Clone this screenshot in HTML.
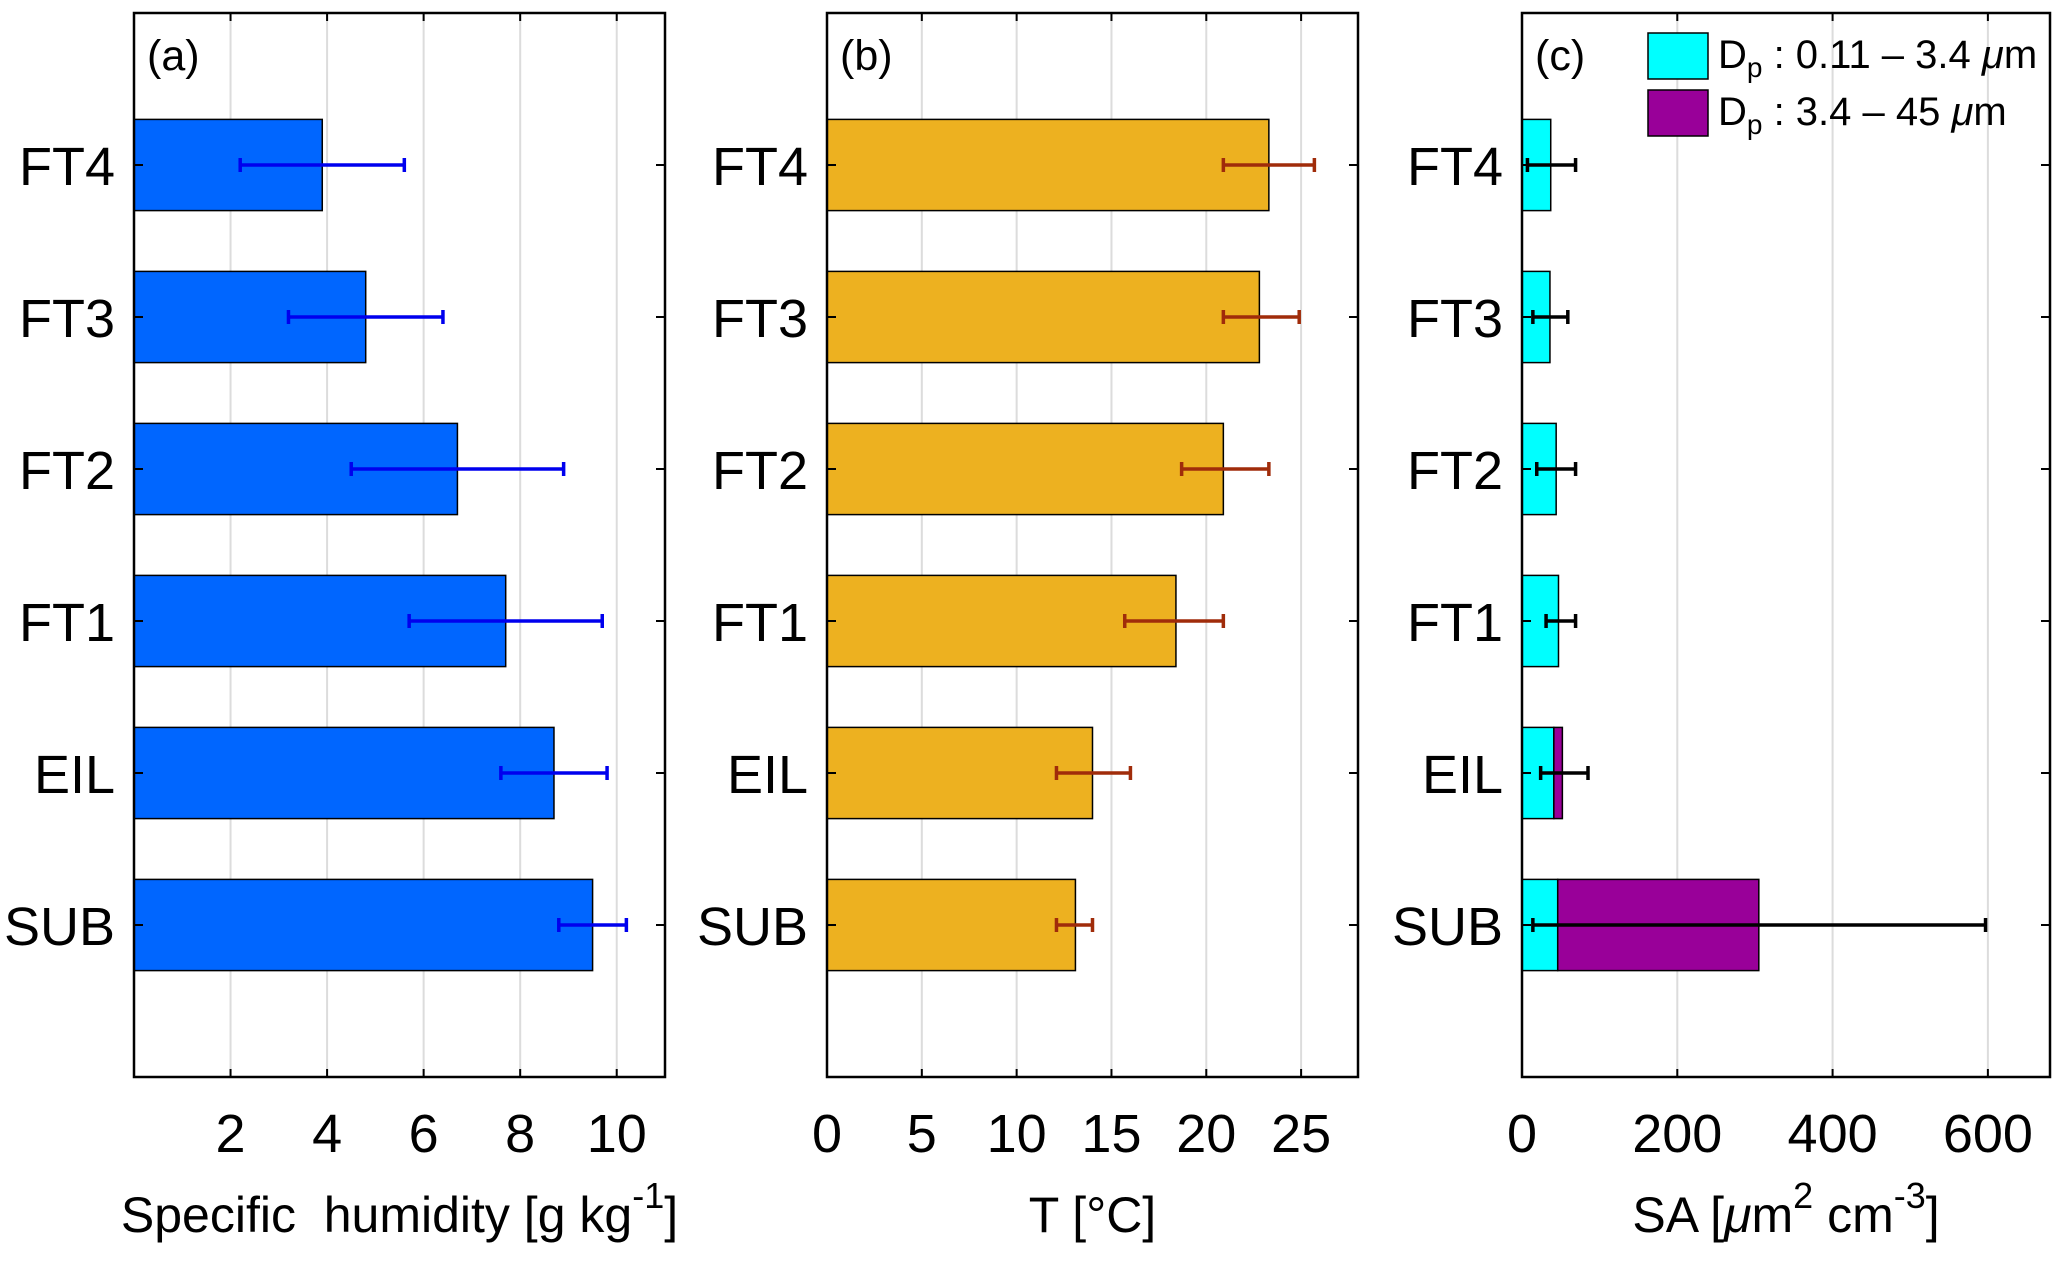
<!DOCTYPE html>
<html><head><meta charset="utf-8"><style>
html,body{margin:0;padding:0;background:#fff}
svg{display:block;font-family:"Liberation Sans",Arial,sans-serif}
</style></head><body>
<svg id="chart" width="2067" height="1267" viewBox="0 0 2067 1267"></svg>
<script>
const categories = ["FT4","FT3","FT2","FT1","EIL","SUB"];
const humidity = [3.9,4.8,6.7,7.7,8.7,9.5];
const humidityLo = [2.2,3.2,4.5,5.7,7.6,8.8];
const humidityHi = [5.6,6.4,8.9,9.7,9.8,10.2];
const temp = [23.3,22.8,20.9,18.4,14.0,13.1];
const tempLo = [20.9,20.9,18.7,15.7,12.1,12.1];
const tempHi = [25.7,24.9,23.3,20.9,16.0,14.0];
const saFine = [37,36,44,47,41,46];
const saCoarse = [0,0,0,0,11,259];
const saLo = [7,14,19,31,24,14];
const saHi = [69,59,69,69,85,597];
const ticksA = [2,4,6,8,10];
const ticksB = [0,5,10,15,20,25];
const ticksC = [0,200,400,600];

const NS="http://www.w3.org/2000/svg";
const svg=document.getElementById('chart');
function mk(tag,attrs,parent){const e=document.createElementNS(NS,tag);for(const k in attrs)e.setAttribute(k,attrs[k]);(parent||svg).appendChild(e);return e;}
const TOP=13,BOT=1077;
const yS=i=>TOP+(i+1)*(BOT-TOP)/7;
const BH=0.6*(BOT-TOP)/7;

function panel(L,R,xmax,ticks,label,title,sup,bars,errLo,errHi,errColor){
  const g=mk('g',{});
  
  
  const xS=v=>L+v/xmax*(R-L);
  ticks.forEach(t=>{
    const gl=mk('line',{x1:xS(t),x2:xS(t),y1:TOP,y2:BOT,stroke:'#dcdcdc','stroke-width':2},g);
    
    
    mk('line',{x1:xS(t),x2:xS(t),y1:BOT,y2:BOT-8,stroke:'#000','stroke-width':2},g);
    mk('line',{x1:xS(t),x2:xS(t),y1:TOP,y2:TOP+8,stroke:'#000','stroke-width':2},g);
    const tl=mk('text',{x:xS(t),y:1152,'font-size':54,'text-anchor':'middle'},g);
    tl.textContent=t;
    
    
  });
  categories.forEach((c,i)=>{
    const y=yS(i);
    let x0=0;
    bars.forEach(b=>{
      const v=b.vals[i];
      if(v>0){
        const r=mk('rect',{x:xS(x0),y:y-BH/2,width:xS(x0+v)-xS(x0),height:BH,fill:b.color,stroke:'#000','stroke-width':1.5},g);
        
        
      }
      x0+=v;
    });
    const a=xS(errLo[i]),b=xS(errHi[i]);
    const eb=mk('path',{d:`M${a},${y}H${b}M${a},${y-7}V${y+7}M${b},${y-7}V${y+7}`,stroke:errColor,'stroke-width':3.5,fill:'none'},g);
    
    
    mk('line',{x1:L,x2:L+9,y1:y,y2:y,stroke:'#000','stroke-width':2},g);
    mk('line',{x1:R,x2:R-9,y1:y,y2:y,stroke:'#000','stroke-width':2},g);
    const cl=mk('text',{x:L-19,y:y+20,'font-size':54,'text-anchor':'end'},g);
    cl.textContent=c;
    
    
  });
  const fr=mk('rect',{x:L,y:TOP,width:R-L,height:BOT-TOP,fill:'none',stroke:'#000','stroke-width':2.5},g);
  
  
  const pl=mk('text',{x:L+13,y:70,'font-size':43},g);
  pl.textContent=label;
  
  
  const tt=mk('text',{x:(L+R)/2,y:1232,'font-size':50,'text-anchor':'middle'},g);
  tt.innerHTML=title;
  
  
  return xS;
}
panel(134,665,11,ticksA,'(a)','Specific&#160;&#160;humidity [g kg<tspan dy="-24" font-size="36">-1</tspan><tspan dy="24">]</tspan>',null,[{vals:humidity,color:'#0066ff'}],humidityLo,humidityHi,'#0000ee');
panel(827,1358,28,ticksB,'(b)','T [°C]',null,[{vals:temp,color:'#edb120'}],tempLo,tempHi,'#a02c0a');
panel(1522,2050,680,ticksC,'(c)','SA [<tspan font-style="italic">μ</tspan>m<tspan dy="-24" font-size="36">2</tspan><tspan dy="24"> cm</tspan><tspan dy="-24" font-size="36">-3</tspan><tspan dy="24">]</tspan>',null,[{vals:saFine,color:'#00ffff'},{vals:saCoarse,color:'#990099'}],saLo,saHi,'#000');

const lg=mk('g',{});


[['#00ffff','0.11 – 3.4',33],['#990099','3.4 – 45',90]].forEach(([col,txt,y])=>{
  const s=mk('rect',{x:1648,y:y,width:60,height:46,fill:col,stroke:'#000','stroke-width':1.5},lg);
  
  
  const t=mk('text',{x:1718,y:y+35,'font-size':40},lg);
  t.innerHTML=`D<tspan dy="9" font-size="28">p</tspan><tspan dy="-9"> : ${txt} </tspan><tspan font-style="italic">μ</tspan>m`;
  
  
});
</script>
</body></html>
